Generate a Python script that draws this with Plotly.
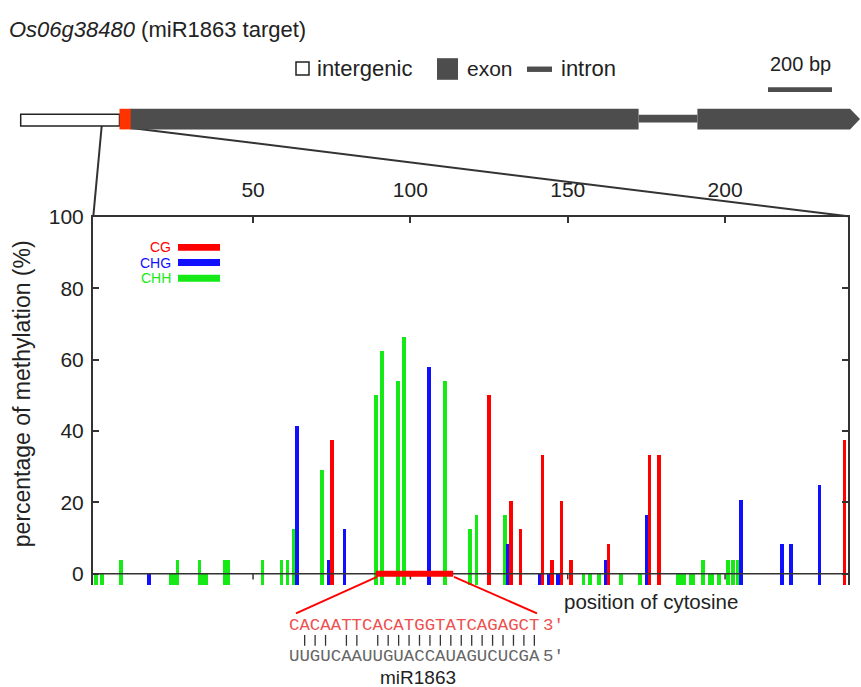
import plotly.graph_objects as go

# ---------------- data ----------------
cg_pos = [75, 125, 132, 135, 142, 145, 148, 151, 163, 176, 179, 238]
cg_val = [37.5, 50, 20.5, 12.5, 33.3, 4, 20.5, 4, 8.3, 33.3, 33.3, 37.5]

chg_pos = [17, 64, 74, 79, 106, 131, 141, 144, 147, 162, 175, 205, 218, 221, 230]
chg_val = [0, 41.5, 4, 12.5, 58, 8.3, 0, 0, 0, 4, 16.5, 20.8, 8.3, 8.3, 25]

chh_pos = [0, 2, 8, 24, 25, 26, 33, 34, 35, 41, 42, 53, 59, 61, 63, 72, 89, 91, 96, 98,
           111, 119, 121, 130, 155, 157, 160, 167, 173, 185, 186, 187, 189, 190, 193,
           195, 196, 198, 201, 202.5, 204]
chh_val = [0, 0, 4, 0, 0, 4, 4, 0, 0, 4, 4, 4, 4, 4, 12.5, 29, 50, 62.5, 54, 66.5,
           54, 12.5, 16.5, 16.5, 0, 0, 0, 0, 0, 0, 0, 0, 0, 0, 4,
           0, 0, 0, 4, 4, 4]

x_ticks = [50, 100, 150, 200]
y_ticks = [0, 20, 40, 60, 80, 100]
mir_site = [89, 113.6]

target_seq = "CACAATTCACATGGTATCAGAGCT"
pair_str = " ||| || ||||||||||||||||"
mirna_seq = "UUGUCAAUUGUACCAUAGUCUCGA"

# ---------------- styling ----------------
W, H = 861, 687
BASE = -3.1
C_CG, C_CHG, C_CHH = "#ff0000", "#1010ff", "#16ea16"
GREY = "#4d4d4d"
AX = "#333333"
SANS = "Liberation Sans, Arial, sans-serif"
MONO = "Liberation Mono, Courier New, monospace"
SEQ_X0, CHAR_W = 287, 10.44


def X(px):
    return px / W


def Y(py):
    return 1 - py / H


fig = go.Figure()
for pos, val, col in [(chh_pos, chh_val, C_CHH), (chg_pos, chg_val, C_CHG), (cg_pos, cg_val, C_CG)]:
    fig.add_trace(go.Bar(x=pos, y=[v - BASE for v in val], base=BASE, width=1.15,
                         marker=dict(color=col, line=dict(width=0)), showlegend=False))

shapes = []
ann = []

# zero line and its ticks
shapes.append(dict(type="line", xref="x domain", yref="y", x0=0, x1=1, y0=0, y1=0,
                   line=dict(color=AX, width=1.5), layer="above"))
for t in x_ticks:
    shapes.append(dict(type="line", xref="x", yref="y", x0=t, x1=t, y0=0, y1=-1.6,
                       line=dict(color=AX, width=1.5), layer="above"))
# miRNA target site
shapes.append(dict(type="line", xref="x", yref="y", x0=mir_site[0], x1=mir_site[1], y0=0, y1=0,
                   line=dict(color="#ff0000", width=6), layer="above"))
shapes.append(dict(type="line", xref="paper", yref="paper", x0=X(377), y0=Y(575), x1=X(296), y1=Y(612),
                   line=dict(color="#ff0000", width=2)))
shapes.append(dict(type="line", xref="paper", yref="paper", x0=X(454), y0=Y(575), x1=X(537), y1=Y(612),
                   line=dict(color="#ff0000", width=2)))

# zoom connector lines
shapes.append(dict(type="line", xref="paper", yref="paper", x0=X(101.7), y0=Y(116), x1=X(93.3), y1=Y(208),
                   line=dict(color=AX, width=2)))
shapes.append(dict(type="line", xref="paper", yref="paper", x0=X(131), y0=Y(118), x1=X(848), y1=Y(208),
                   line=dict(color=AX, width=2)))


def rect(x0, x1, y0, y1, fill, lc=None, lw=0):
    return dict(type="rect", xref="paper", yref="paper", x0=X(x0), x1=X(x1), y0=Y(y1), y1=Y(y0),
                fillcolor=fill, line=dict(color=lc or fill, width=lw))


# gene diagram
shapes.append(rect(20.7, 119.5, 104, 116, "white", "#222222", 1.5))
shapes.append(rect(130, 638.6, 98.5, 119.5, GREY))
shapes.append(rect(638.6, 697.4, 104.5, 112.5, GREY))
shapes.append(dict(type="path", xref="paper", yref="paper",
                   path=f"M {X(697.4)},{Y(98.5)} L {X(850)},{Y(98.5)} L {X(860)},{Y(109)} "
                        f"L {X(850)},{Y(119.5)} L {X(697.4)},{Y(119.5)} Z",
                   fillcolor=GREY, line=dict(width=0)))
shapes.append(rect(119.5, 130.7, 98.5, 119.5, "#ff3300"))

# top legend
shapes.append(rect(296, 309, 51, 64, "white", "#222222", 1.5))
shapes.append(rect(437, 458, 47, 69, GREY))
shapes.append(rect(527, 552, 55.5, 61, GREY))
shapes.append(rect(768, 832, 76.5, 81.5, GREY))


def text(s, px, py, size=20, color="#222222", xanchor="left", font=SANS, **kw):
    ann.append(dict(text=s, x=X(px), y=Y(py), xref="paper", yref="paper", showarrow=False,
                    xanchor=xanchor, yanchor="middle", font=dict(family=font, size=size, color=color), **kw))


text("<i>Os06g38480</i> (miR1863 target)", 7, 18, size=22)
text("intergenic", 315, 57, size=22)
text("exon", 465, 57, size=21)
text("intron", 559, 57, size=22)
text("200 bp", 800, 53, size=20, xanchor="center")

# in-plot legend
for lab, col, yc in [("CG", C_CG, 239.5), ("CHG", C_CHG, 255), ("CHH", C_CHH, 271)]:
    shapes.append(rect(178, 220, yc - 3.5, yc + 3.5, col))
    text(lab, 173, yc, size=14, color=col, xanchor="right")

# axis title and labels
text("percentage of methylation (%)", 22, 389, size=23, xanchor="center", textangle=-90)
text("position of cytosine", 562, 600, size=20.5)

# sequences
text(target_seq, SEQ_X0, 624, size=17.4, color="#ee5050", font=MONO)
text("3\u2032", 541, 624, size=17.4, color="#ee5050", font=MONO)
for i, ch in enumerate(pair_str):
    if ch == "|":
        cx = SEQ_X0 + 2 + (i + 0.5) * CHAR_W
        shapes.append(dict(type="line", xref="paper", yref="paper", x0=X(cx), x1=X(cx),
                           y0=Y(634), y1=Y(645), line=dict(color="#333333", width=1.3)))
text(mirna_seq, SEQ_X0, 656, size=17.4, color="#666666", font=MONO)
text("5\u2032", 541, 656, size=17.4, color="#666666", font=MONO)
text("miR1863", 418, 677, size=19, xanchor="center")

fig.update_layout(
    width=W, height=H, margin=dict(l=0, r=0, t=0, b=0),
    paper_bgcolor="white", plot_bgcolor="white",
    barmode="overlay", bargap=0,
    font=dict(family=SANS, color="#222222"),
    shapes=shapes, annotations=ann,
    xaxis=dict(domain=[X(93), X(848)], range=[-0.86, 239.06], side="top",
               showline=True, linecolor=AX, linewidth=2, mirror=False,
               ticks="inside", ticklen=6, tickwidth=1.5, tickcolor=AX,
               tickvals=x_ticks, tickfont=dict(size=21), ticklabelstandoff=9,
               showgrid=False, zeroline=False),
    yaxis=dict(domain=[Y(583.3), Y(208.5)], range=[-3.2, 100],
               showline=True, linecolor=AX, linewidth=2, mirror="ticks",
               ticks="inside", ticklen=6, tickwidth=1.5, tickcolor=AX,
               tickvals=y_ticks, tickfont=dict(size=21), ticklabelstandoff=3,
               showgrid=False, zeroline=False),
)

fig.write_html("out.html")
